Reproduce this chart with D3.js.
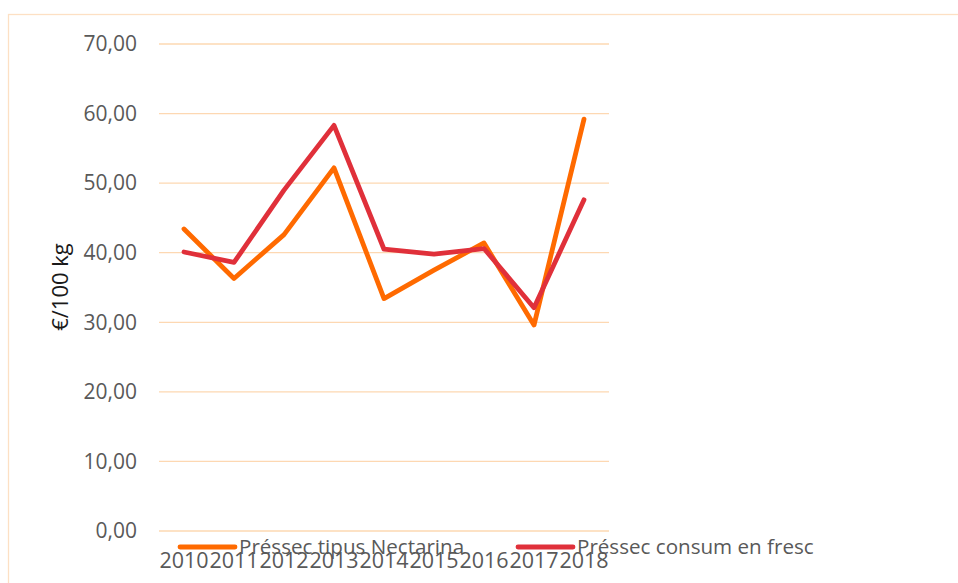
<!DOCTYPE html>
<html lang="ca">
<head>
    <meta charset="UTF-8">
    <title>Préssec</title>
    <script src="https://d3js.org/d3.v7.min.js"></script>
    <style>
        body { margin: 0; background: #fff; }
        svg { display: block; font-family: "Open Sans", sans-serif; }
        .grid line { stroke: #fdd8b2; stroke-width: 1.3; }
        .tick text { fill: #595959; font-size: 21px; }
        .series { fill: none; stroke-width: 4.8; stroke-linejoin: round; stroke-linecap: round; }
    </style>
</head>
<body>
<script>
    const width = 958;
    const height = 583;

    const years = ["2010", "2011", "2012", "2013", "2014", "2015", "2016", "2017", "2018"];
    const nectarina = [43.4, 36.3, 42.6, 52.2, 33.4, 37.5, 41.4, 29.6, 59.2];
    const fresc = [40.1, 38.6, 49.0, 58.3, 40.5, 39.8, 40.6, 32.1, 47.6];
    const yTicks = [0, 10, 20, 30, 40, 50, 60, 70];
    const seriesNames = ["Préssec tipus Nectarina", "Préssec consum en fresc"];
    const colors = ["#ff6a00", "#e0303a"];

    const svg = d3.select("body").append("svg")
        .attr("width", width).attr("height", height);

    // chart frame, runs off the bottom and right
    svg.append("rect")
        .attr("x", 8.5).attr("y", 14.5)
        .attr("width", width + 20).attr("height", height + 20)
        .attr("fill", "none").attr("stroke", "#fde0c4").attr("stroke-width", 1.3);

    const x = d3.scaleBand().domain(years).range([159, 609]);
    const y = d3.scaleLinear().domain([0, 70]).range([531, 44]);

    // gridlines
    svg.append("g").attr("class", "grid")
        .selectAll("line").data(yTicks).enter().append("line")
        .attr("x1", 159).attr("x2", 609)
        .attr("y1", d => y(d)).attr("y2", d => y(d));

    // y axis labels
    const fmt = d => d3.format(".2f")(d).replace(".", ",");
    svg.append("g").attr("class", "tick")
        .selectAll("text").data(yTicks).enter().append("text")
        .attr("x", 137).attr("y", d => y(d))
        .attr("dy", "0.35em").attr("text-anchor", "end")
        .text(fmt);

    // x axis labels
    svg.append("g").attr("class", "tick")
        .selectAll("text").data(years).enter().append("text")
        .attr("x", d => x(d) + x.bandwidth() / 2).attr("y", 568)
        .attr("text-anchor", "middle")
        .style("font-size", "21.5px")
        .text(d => d);

    // y title
    svg.append("text")
        .attr("transform", "translate(68,287) rotate(-90)")
        .attr("text-anchor", "middle")
        .style("font-size", "22px").style("fill", "#1a1a1a")
        .text("€/100 kg");

    const line = d3.line()
        .x((d, i) => x(years[i]) + x.bandwidth() / 2)
        .y(d => y(d));

    svg.selectAll("path.series")
        .data([nectarina, fresc])
        .enter().append("path")
        .attr("class", "series")
        .attr("stroke", (d, i) => colors[i])
        .attr("d", line);

    // legend
    const legendX = [180, 518];
    const legend = svg.selectAll("g.legend")
        .data(seriesNames).enter().append("g")
        .attr("class", "legend")
        .attr("transform", (d, i) => `translate(${legendX[i]},547)`);
    legend.append("line")
        .attr("x1", 0).attr("x2", 55)
        .attr("stroke", (d, i) => colors[i])
        .attr("stroke-width", 4.8).attr("stroke-linecap", "round");
    legend.append("text")
        .attr("x", 59).attr("y", 7)
        .style("font-size", "20.6px").style("fill", "#595959")
        .text(d => d);
</script>
</body>
</html>
